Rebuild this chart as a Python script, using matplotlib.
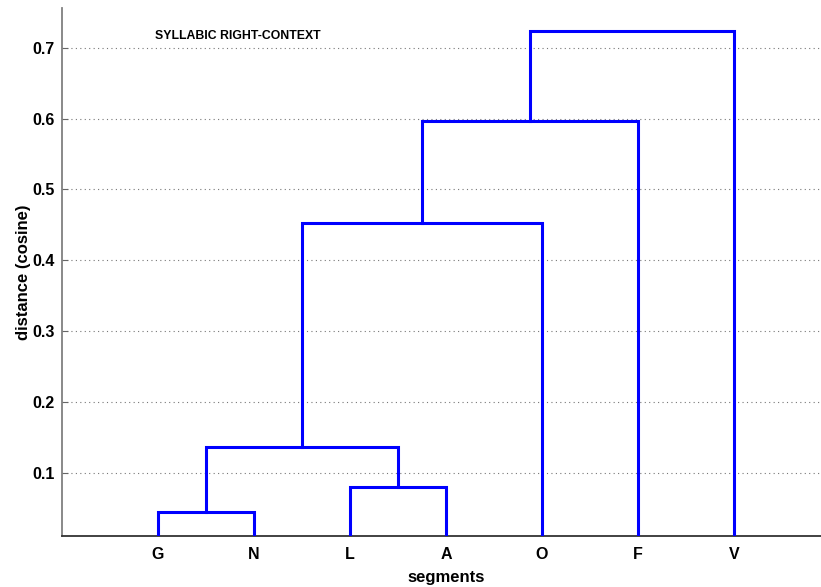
import matplotlib
matplotlib.use("Agg")
import matplotlib.pyplot as plt

plt.rcParams['font.family'] = ['Liberation Sans', 'DejaVu Sans']

# leaves in display order
leaves = ['G', 'N', 'L', 'A', 'O', 'F', 'V']

# merges (scipy-like ids: 0..6 leaves, 7.. clusters)
merge_left = [0, 2, 7, 9, 10, 11]
merge_right = [1, 3, 8, 4, 5, 6]
merge_height = [0.045, 0.080, 0.136, 0.452, 0.596, 0.723]

yticks = [0.1, 0.2, 0.3, 0.4, 0.5, 0.6, 0.7]

fig = plt.figure(figsize=(8.21, 5.87), dpi=100)
ax = fig.add_axes([62 / 821, 51 / 587, 768 / 821, 528 / 587])

# x/y of every node, leaves first
node_x = [i + 1 for i in range(len(leaves))]
node_y = [0.0] * len(leaves)
for l, r, h in zip(merge_left, merge_right, merge_height):
    xl, xr = node_x[l], node_x[r]
    ax.plot([xl, xl, xr, xr], [node_y[l], h, h, node_y[r]],
            color='#0000ff', lw=2.2, solid_joinstyle='miter', zorder=3)
    node_x.append((xl + xr) / 2)
    node_y.append(h)

ax.set_xlim(0, len(leaves) + 1)
ax.set_ylim(0.0108, 0.756)
ax.set_xticks(node_x[:len(leaves)])
ax.set_xticklabels(leaves, fontsize=11.5, fontweight='bold')
ax.set_yticks(yticks)
ax.set_yticklabels(['%.1f' % t for t in yticks], fontsize=11.5, fontweight='bold')
ax.tick_params(axis='x', length=0, pad=8)
ax.tick_params(axis='y', direction='in', length=4, color='#666666', pad=5)

ax.yaxis.grid(True, linestyle=(0, (1, 3)), color='#777777', lw=0.8)
ax.set_axisbelow(True)

ax.spines['top'].set_visible(False)
ax.spines['right'].set_visible(False)
ax.spines['left'].set_color('#808080')
ax.spines['left'].set_linewidth(1.3)
ax.spines['bottom'].set_color('#333333')
ax.spines['bottom'].set_linewidth(1.3)

ax.text(0.97, 0.717, 'SYLLABIC RIGHT-CONTEXT', fontsize=8.8, fontweight='bold',
        ha='left', va='center')

ax.set_xlabel('segments', fontsize=12, fontweight='bold', labelpad=6)
ax.set_ylabel('distance (cosine)', fontsize=12, fontweight='bold', labelpad=1)

fig.savefig('out.png', dpi=100)
